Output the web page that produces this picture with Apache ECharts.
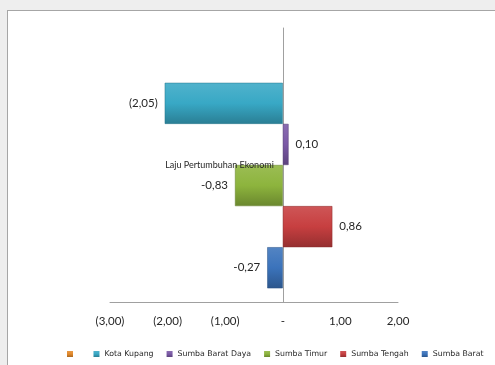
<!DOCTYPE html>
<html>
<head>
<meta charset="utf-8">
<script src="https://cdn.jsdelivr.net/npm/echarts@6/dist/echarts.min.js"></script>
<style>
html,body{margin:0;padding:0;background:#eeeeee;width:495px;height:365px;overflow:hidden;}
#frame{position:absolute;left:7px;top:10px;width:500px;height:370px;background:#ffffff;border-left:1px solid #a6a6a6;border-top:1px solid #a6a6a6;}
#chart{position:absolute;left:0;top:0;width:495px;height:365px;}
</style>
</head>
<body>
<div id="frame"></div>
<div id="chart"></div>
<script>
var categories = ['Laju Pertumbuhan Ekonomi'];
var seriesNames = [' ', 'Kota Kupang', 'Sumba Barat Daya', 'Sumba Timur', 'Sumba Tengah', 'Sumba Barat'];
var seriesValues = [null, -2.05, 0.10, -0.83, 0.86, -0.27];
var valueLabels = ['', '(2,05)', '0,10', '-0,83', '0,86', '-0,27'];
var seriesColors = ['#e38a2c', '#38a8c5', '#7b59a6', '#8db43d', '#c73f40', '#3b73bb'];
var tickLabels = {'-3': '(3,00)', '-2': '(2,00)', '-1': '(1,00)', '0': '-', '1': '1,00', '2': '2,00'};

function shade(hex, f) {
  var n = parseInt(hex.slice(1), 16);
  var r = (n >> 16) & 255, g = (n >> 8) & 255, b = n & 255;
  function c(v) { v = f > 0 ? v + (255 - v) * f : v * (1 + f); return Math.max(0, Math.min(255, Math.round(v))); }
  return 'rgb(' + c(r) + ',' + c(g) + ',' + c(b) + ')';
}

var series = seriesNames.map(function (name, i) {
  var v = seriesValues[i];
  return {
    name: name,
    type: 'bar',
    yAxisIndex: 0,
    barGap: '0%',
    barCategoryGap: '10%',
    data: [v],
    itemStyle: {
      color: new echarts.graphic.LinearGradient(0, 0, 0, 1, [
        {offset: 0, color: shade(seriesColors[i], 0.12)},
        {offset: 0.5, color: seriesColors[i]},
        {offset: 1, color: shade(seriesColors[i], -0.25)}
      ]),
      borderColor: shade(seriesColors[i], -0.3),
      borderWidth: 0.5
    },
    label: {
      show: v !== null,
      position: (v !== null && v < 0) ? 'left' : 'right',
      distance: 7,
      formatter: function () { return valueLabels[i]; },
      fontFamily: 'Lato',
      fontSize: 11.5,
      color: '#262626'
    }
  };
});

var gridLeft = 110, gridRight = 97, xMin = -3, xMax = 2;
var zeroOffset = (0 - xMin) / (xMax - xMin) * (495 - gridLeft - gridRight);

var chart = echarts.init(document.getElementById('chart'), null, {renderer: 'canvas'});
chart.setOption({
  animation: false,
  color: seriesColors,
  grid: {left: gridLeft, right: gridRight, top: 28, bottom: 63, containLabel: false, outerBoundsMode: 'none'},
  xAxis: {
    type: 'value',
    min: xMin, max: xMax, interval: 1,
    splitLine: {show: false},
    axisTick: {show: false},
    axisLine: {show: true, lineStyle: {color: '#a0a0a0', width: 1}},
    axisLabel: {
      margin: 13,
      fontFamily: 'Lato', fontSize: 11.5, color: '#262626',
      formatter: function (v) { return tickLabels[String(Math.round(v))]; }
    }
  },
  yAxis: [{
    type: 'category',
    data: categories,
    inverse: true,
    axisTick: {show: false},
    axisLine: {show: true, onZero: true, lineStyle: {color: '#a0a0a0', width: 1}},
    axisLabel: {show: false}
  }, {
    type: 'category',
    data: categories,
    inverse: true,
    position: 'left',
    offset: -zeroOffset,
    axisTick: {show: false},
    axisLine: {show: false, onZero: false},
    splitLine: {show: false},
    axisLabel: {margin: 9, fontFamily: 'Lato', fontSize: 9, color: '#262626'},
    z: 5
  }],
  legend: {
    data: seriesNames,
    left: 62,
    top: 345,
    width: 480,
    itemWidth: 6,
    itemHeight: 6,
    itemGap: 13,
    icon: 'rect',
    itemStyle: {borderWidth: 0},
    textStyle: {fontFamily: 'DejaVu Sans', fontSize: 7.8, color: '#262626'}
  },
  series: series
});
</script>
</body>
</html>
